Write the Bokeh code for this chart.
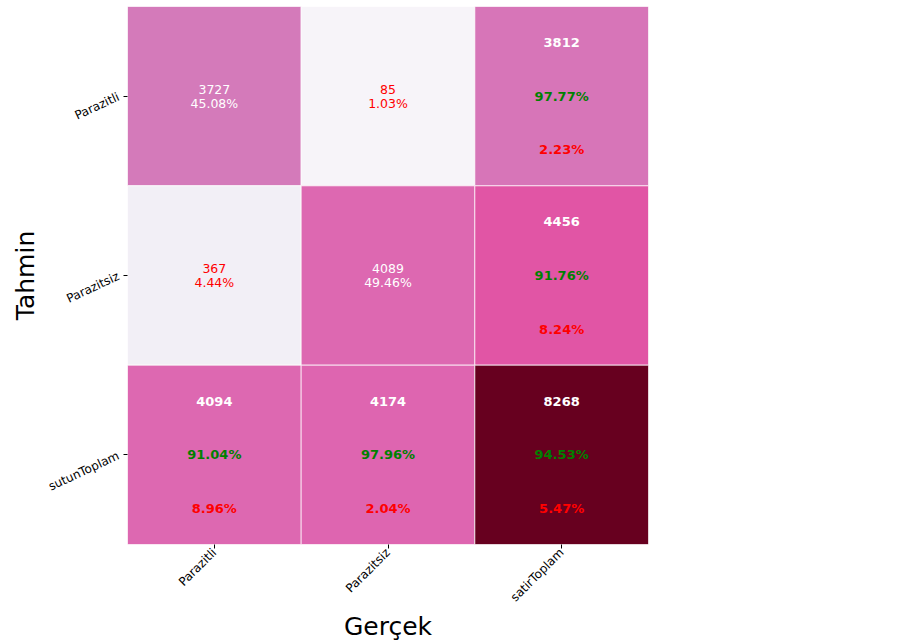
import math

from bokeh.core.properties import value
from bokeh.embed import file_html
from bokeh.models import ColumnDataSource, FixedTicker, LinearColorMapper, Range1d
from bokeh.palettes import PuRd9, interp_palette
from bokeh.plotting import figure
from bokeh.resources import INLINE

# Confusion matrix with row / column totals
actual_labels = ["Parazitli", "Parazitsiz", "satirToplam"]      # columns (x)
predicted_labels = ["Parazitli", "Parazitsiz", "sutunToplam"]   # rows (y)
counts = [
    [3727, 85, 3812],
    [367, 4089, 4456],
    [4094, 4174, 8268],
]
share_pct = [
    [45.08, 1.03],
    [4.44, 49.46],
]
row_total_correct = [97.77, 91.76]
row_total_wrong = [2.23, 8.24]
col_total_correct = [91.04, 97.96]
col_total_wrong = [8.96, 2.04]
overall_correct = 94.53
overall_wrong = 5.47

FONT = "DejaVu Sans"

palette = interp_palette(list(reversed(PuRd9)), 256)
flat = [c for row in counts for c in row]
mapper = LinearColorMapper(palette=palette, low=min(flat), high=max(flat))

cells = dict(x=[], y=[], count=[])
for i, row in enumerate(counts):
    for j, c in enumerate(row):
        cells["x"].append(j + 0.5)
        cells["y"].append(i + 0.5)
        cells["count"].append(c)

p = figure(
    width=922, height=644,
    x_range=Range1d(0, 3), y_range=Range1d(3, 0),
    output_backend="svg", toolbar_location=None,
    min_border_left=127, min_border_right=274,
    min_border_top=6, min_border_bottom=100,
)
p.background_fill_color = "white"
p.border_fill_color = "white"
p.outline_line_color = None
p.grid.visible = False

p.rect(x="x", y="y", width=1, height=1, source=ColumnDataSource(cells),
       fill_color={"field": "count", "transform": mapper},
       line_color="white", line_width=1, line_alpha=0.7)

# plain two-line labels in the inner 2x2 block
plain = dict(x=[], y=[], text=[], color=[], off=[])
# bold three-line labels in the totals row / column
bold = dict(x=[], y=[], text=[], color=[])

for i in range(2):
    for j in range(2):
        col = "white" if i == j else "red"
        plain["x"] += [j + 0.5, j + 0.5]
        plain["y"] += [i + 0.5, i + 0.5]
        plain["text"] += [str(counts[i][j]), f"{share_pct[i][j]:.2f}%"]
        plain["color"] += [col, col]
        plain["off"] += [-7, 7]


def add_total(i, j, good, bad):
    bold["x"] += [j + 0.5] * 3
    bold["y"] += [i + 0.2, i + 0.5, i + 0.8]
    bold["text"] += [str(counts[i][j]), f"{good:.2f}%", f"{bad:.2f}%"]
    bold["color"] += ["white", "green", "red"]


for i in range(2):
    add_total(i, 2, row_total_correct[i], row_total_wrong[i])
for j in range(2):
    add_total(2, j, col_total_correct[j], col_total_wrong[j])
add_total(2, 2, overall_correct, overall_wrong)

p.text(x="x", y="y", text="text", y_offset="off", source=ColumnDataSource(plain),
       text_color="color", text_font=value(FONT), text_font_size="12.5px",
       text_align="center", text_baseline="middle")
p.text(x="x", y="y", text="text", source=ColumnDataSource(bold),
       text_color="color", text_font=value(FONT), text_font_size="13px",
       text_font_style="bold", text_align="center", text_baseline="middle")

centers = [0.5, 1.5, 2.5]
p.xaxis.ticker = FixedTicker(ticks=centers)
p.yaxis.ticker = FixedTicker(ticks=centers)
p.xaxis.major_label_overrides = {c: l for c, l in zip(centers, actual_labels)}
p.yaxis.major_label_overrides = {c: l for c, l in zip(centers, predicted_labels)}
p.xaxis.major_label_orientation = math.pi / 4
p.yaxis.major_label_orientation = math.radians(25)

for ax in (p.xaxis, p.yaxis):
    ax.axis_line_color = None
    ax.major_tick_in = 0
    ax.major_tick_out = 4
    ax.major_tick_line_color = "black"
    ax.minor_tick_line_color = None
    ax.major_label_text_font = FONT
    ax.major_label_text_font_size = "12px"
    ax.major_label_text_color = "black"
    ax.axis_label_text_font = FONT
    ax.axis_label_text_font_size = "25px"
    ax.axis_label_text_font_style = "normal"
    ax.axis_label_text_color = "black"

p.xaxis.major_label_standoff = 2
p.xaxis.axis_label_standoff = 0
p.yaxis.axis_label_standoff = 0

p.xaxis.axis_label = "Gerçek"
p.yaxis.axis_label = "Tahmin"

open("out.html", "w").write(file_html(p, INLINE))
